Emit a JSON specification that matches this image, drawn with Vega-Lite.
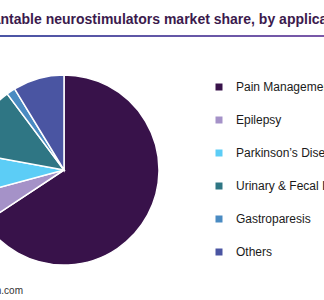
{
  "$schema": "https://vega.github.io/schema/vega-lite/v6.json",
  "autosize": "none",
  "width": 128,
  "height": 268,
  "padding": {"left": 0, "top": 36, "right": 196, "bottom": 0},
  "background": "white",
  "config": {"view": {"stroke": null}, "font": "Liberation Sans"},
  "title": {
    "text": "Implantable neurostimulators market share, by application, 2016 (%)",
    "anchor": "start",
    "frame": "group",
    "dx": -36,
    "offset": -3,
    "baseline": "alphabetic",
    "font": "Liberation Sans",
    "fontSize": 14,
    "fontWeight": "bold",
    "color": "#3b1a4d"
  },
  "layer": [
    {
      "data": {"values": [
        {"application": "Pain Management", "share": 65.7, "order": 1},
        {"application": "Epilepsy", "share": 5.1, "order": 2},
        {"application": "Parkinson’s Disease", "share": 7.1, "order": 3},
        {"application": "Urinary & Fecal Incontinence", "share": 11.9, "order": 4},
        {"application": "Gastroparesis", "share": 1.5, "order": 5},
        {"application": "Others", "share": 8.7, "order": 6}
      ]},
      "mark": {"type": "arc", "outerRadius": 95, "stroke": "white", "strokeWidth": 1.5},
      "encoding": {
        "theta": {"field": "share", "type": "quantitative", "stack": true},
        "order": {"field": "order", "type": "quantitative"},
        "color": {
          "field": "application",
          "type": "nominal",
          "sort": null,
          "scale": {
            "domain": ["Pain Management", "Epilepsy", "Parkinson’s Disease", "Urinary & Fecal Incontinence", "Gastroparesis", "Others"],
            "range": ["#38124a", "#a592c8", "#5ccdf6", "#2f7684", "#4a8bc2", "#4a55a2"]
          },
          "legend": {
            "orient": "none",
            "legendX": 213,
            "legendY": 45,
            "title": null,
            "padding": 0,
            "symbolType": "square",
            "symbolSize": 49,
            "symbolStrokeWidth": 0,
            "labelFont": "Liberation Sans",
            "labelFontSize": 12,
            "labelColor": "#1a1a1a",
            "labelOffset": 11,
            "labelLimit": 400,
            "rowPadding": 21
          }
        }
      }
    },
    {
      "data": {"values": [{}]},
      "mark": {
        "type": "rect",
        "fill": {"gradient": "linear", "x1": 0, "x2": 1, "y1": 0, "y2": 0, "stops": [{"offset": 0, "color": "#4a55a5"}, {"offset": 1, "color": "#7a58a8"}]}
      },
      "encoding": {"x": {"value": 0}, "x2": {"value": 324}, "y": {"value": -1}, "y2": {"value": 1}}
    },
    {
      "data": {"values": [{"note": "Source: www.grandviewresearch.com"}]},
      "mark": {"type": "text", "align": "right", "baseline": "alphabetic", "fontSize": 10, "font": "Liberation Sans", "color": "#333333"},
      "encoding": {"text": {"field": "note"}, "x": {"value": 23}, "y": {"value": 258}}
    }
  ]
}
